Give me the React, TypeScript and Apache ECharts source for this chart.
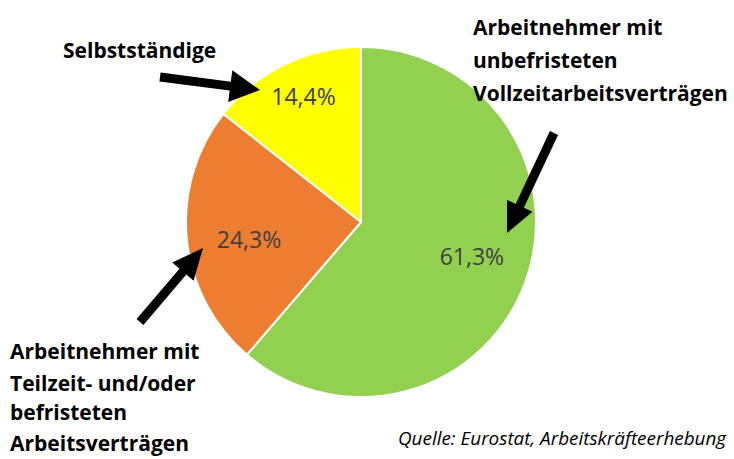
import React, { useEffect, useRef } from "react";
import * as echarts from "echarts";

const categories = [
  "Arbeitnehmer mit unbefristeten Vollzeitarbeitsverträgen",
  "Arbeitnehmer mit Teilzeit- und/oder befristeten Arbeitsverträgen",
  "Selbstständige",
];
const values = [61.3, 24.3, 14.4];
const colors = ["#92D050", "#ED7D31", "#FFFF00"];
const labelOffsets: number[][] = [[26, 3], [-22, 8], [-18, -45]];

const fmt = (v: number) => v.toFixed(1).replace(".", ",") + "%";

function arrow(tail: number[], tip: number[], shaftW: number, headW: number, headL: number) {
  const dx = tip[0] - tail[0];
  const dy = tip[1] - tail[1];
  const len = Math.sqrt(dx * dx + dy * dy);
  const ux = dx / len, uy = dy / len;
  const nx = -uy, ny = ux;
  const bx = tip[0] - ux * headL, by = tip[1] - uy * headL;
  return [
    [tail[0] + (nx * shaftW) / 2, tail[1] + (ny * shaftW) / 2],
    [bx + (nx * shaftW) / 2, by + (ny * shaftW) / 2],
    [bx + (nx * headW) / 2, by + (ny * headW) / 2],
    [tip[0], tip[1]],
    [bx - (nx * headW) / 2, by - (ny * headW) / 2],
    [bx - (nx * shaftW) / 2, by - (ny * shaftW) / 2],
    [tail[0] - (nx * shaftW) / 2, tail[1] - (ny * shaftW) / 2],
  ];
}

export default function App() {
  const ref = useRef<HTMLDivElement>(null);
  useEffect(() => {
    if (!ref.current) return;
    const chart = echarts.init(ref.current, null, { renderer: "svg" });
    const font = "'Open Sans', Lato, sans-serif";
    const titleStyle = { fontFamily: font, fontWeight: "bold", fontSize: 21, fill: "#000" } as any;
    const line = (x: number, y: number, text: string) => ({
      type: "text", x, y, z: 100,
      style: { ...titleStyle, text, textVerticalAlign: "middle" },
    });
    chart.setOption({
      animation: false,
      backgroundColor: "#ffffff",
      series: [
        {
          type: "pie",
          center: [361, 222],
          radius: [0, 175],
          startAngle: 90,
          clockwise: true,
          silent: true,
          itemStyle: { borderColor: "#ffffff", borderWidth: 2 },
          label: {
            position: "inside",
            color: "#404040",
            fontSize: 23,
            fontFamily: font,
            formatter: (p: any) => fmt(p.value),
          },
          labelLine: { show: false },
          data: categories.map((c, i) => ({
            name: c,
            value: values[i],
            itemStyle: { color: colors[i] },
            label: { offset: labelOffsets[i] },
          })),
        },
      ],
      graphic: [
        { type: "polygon", z: 100, shape: { points: arrow([160, 77], [260, 90], 9, 32, 30) }, style: { fill: "#000" } },
        { type: "polygon", z: 100, shape: { points: arrow([140, 322], [203, 248], 9, 28, 31) }, style: { fill: "#000" } },
        { type: "polygon", z: 100, shape: { points: arrow([554, 133], [507, 233], 9, 28, 30) }, style: { fill: "#000" } },
        line(63, 50, categories[2]),
        line(473, 27, "Arbeitnehmer mit"),
        line(473, 60, "unbefristeten"),
        line(473, 93, "Vollzeitarbeitsverträgen"),
        line(10, 351, "Arbeitnehmer mit"),
        line(10, 383, "Teilzeit- und/oder"),
        line(10, 412, "befristeten"),
        line(10, 443, "Arbeitsverträgen"),
        {
          type: "text", x: 398, y: 438, z: 100,
          style: {
            text: "Quelle: Eurostat, Arbeitskräfteerhebung",
            fontFamily: font, fontStyle: "italic", fontSize: 18.9, fill: "#000",
            textVerticalAlign: "middle",
          },
        },
      ],
    });
    return () => chart.dispose();
  }, []);
  return (
    <div style={{ position: "fixed", left: 0, top: 0 }}>
      <div ref={ref} style={{ width: 734, height: 459 }} />
    </div>
  );
}
